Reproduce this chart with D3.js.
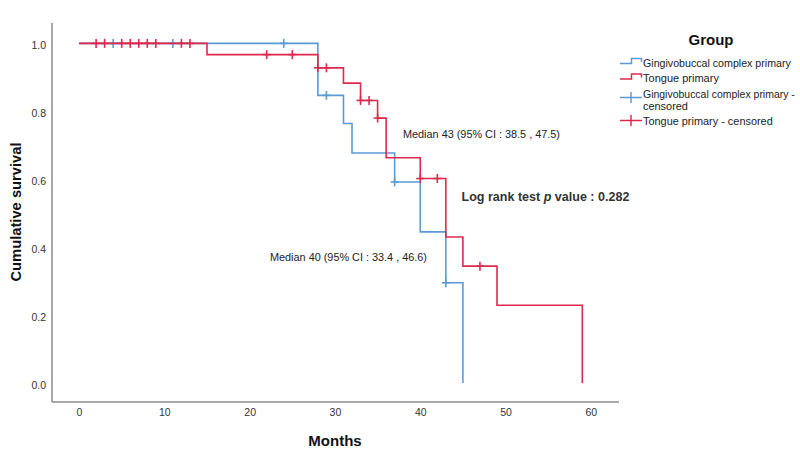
<!DOCTYPE html>
<html>
<head>
<meta charset="utf-8">
<script src="https://cdn.jsdelivr.net/npm/d3@7"></script>
<style>
  html, body { margin: 0; padding: 0; background: #fff; }
  svg { display: block; }
  text { font-family: "Liberation Sans Narrow", "Arial Narrow", "Liberation Sans", Arial, sans-serif; }
</style>
</head>
<body>
<svg id="chart" width="800" height="456"></svg>
<script>
// ---- data ----
const groups = ["Gingivobuccal complex primary", "Tongue primary"];
const blueTimes = [0, 28, 31, 32, 37, 40, 43, 45];
const blueSurv  = [1, 0.847, 0.764, 0.677, 0.592, 0.445, 0.295, 0];
const blueCensor = [4, 11, 24, 29, 37, 43];
const redTimes = [0, 15, 28, 31, 33, 35, 36, 40, 43, 45, 49, 59];
const redSurv  = [1, 0.967, 0.928, 0.883, 0.832, 0.780, 0.663, 0.602, 0.430, 0.344, 0.229, 0];
const redCensor = [2, 3, 5, 6, 7, 8, 9, 12, 13, 22, 25, 28, 29, 33, 34, 35, 40, 42, 47];
const xTicks = [0, 10, 20, 30, 40, 50, 60];
const yTicks = [0, 0.2, 0.4, 0.6, 0.8, 1.0];
const legendLabels = ["Gingivobuccal complex primary", "Tongue primary",
  "Gingivobuccal complex primary - censored", "Tongue primary - censored"];
const annotations = {
  median43: "Median 43 (95% CI : 38.5 , 47.5)",
  median40: "Median 40 (95% CI : 33.4 , 46.6)"
};

const BLUE = "#5b9bd5";
const RED = "#e0284f";

const svg = d3.select("#chart");

const x = d3.scaleLinear().domain([-3.17, 63.3]).range([52, 619]);
const y = d3.scaleLinear().domain([-0.056, 1.06]).range([402, 23]);

// axes
const axisColor = "#8c8c8c";
svg.append("line").attr("x1", x.range()[0]).attr("x2", x.range()[1])
  .attr("y1", y.range()[0]).attr("y2", y.range()[0])
  .attr("stroke", axisColor).attr("stroke-width", 1.5);
svg.append("line").attr("x1", x.range()[0]).attr("x2", x.range()[0])
  .attr("y1", y.range()[0]).attr("y2", y.range()[1])
  .attr("stroke", axisColor).attr("stroke-width", 1.5);

const xAxis = d3.axisBottom(x).tickValues(xTicks).tickSize(0).tickPadding(0);
const gx = svg.append("g").attr("transform", `translate(0,${y.range()[0]})`).call(xAxis);
gx.select(".domain").remove();
gx.selectAll("text").attr("y", 14).attr("dy", 0)
  .attr("font-size", 10.5).attr("fill", "#333")
  .style("font-family", "'Liberation Sans Narrow','Arial Narrow','Liberation Sans',Arial,sans-serif");

const yAxis = d3.axisLeft(y).tickValues(yTicks).tickFormat(d3.format(".1f")).tickSize(0).tickPadding(0);
const gy = svg.append("g").attr("transform", `translate(46,0)`).call(yAxis);
gy.select(".domain").remove();
gy.selectAll("text").attr("x", 0).attr("dy", "0.48em")
  .attr("font-size", 10.5).attr("fill", "#333")
  .style("font-family", "'Liberation Sans Narrow','Arial Narrow','Liberation Sans',Arial,sans-serif");

// curves
const line = d3.line().curve(d3.curveStepAfter).x(d => x(d[0])).y(d => y(d[1]));
function survAt(times, surv, t) {
  let s = surv[0];
  for (let i = 0; i < times.length; i++) if (times[i] <= t) s = surv[i];
  return s;
}
function drawGroup(times, surv, censor, color) {
  const pts = times.map((t, i) => [t, surv[i]]);
  svg.append("path").attr("d", line(pts)).attr("fill", "none")
    .attr("stroke", color).attr("stroke-width", 1.6);
  const g = svg.append("g");
  censor.forEach(t => {
    const cx = x(t), cy = y(survAt(times, surv, t));
    g.append("line").attr("x1", cx).attr("x2", cx).attr("y1", cy - 4.5).attr("y2", cy + 4.5)
      .attr("stroke", color).attr("stroke-width", 1.6);
    g.append("line").attr("x1", cx - 4).attr("x2", cx + 4).attr("y1", cy).attr("y2", cy)
      .attr("stroke", color).attr("stroke-width", 1.6);
  });
}
drawGroup(blueTimes, blueSurv, blueCensor, BLUE);
drawGroup(redTimes, redSurv, redCensor, RED);

// fit helper: shrink font size so the natural width equals target
function fitWidth(sel, target, base) {
  sel.attr("font-size", base);
  const w = sel.node().getComputedTextLength();
  if (w > 0) sel.attr("font-size", base * target / w);
}

// annotations
fitWidth(svg.append("text").attr("x", 403).attr("y", 137.5).attr("fill", "#222")
  .text(annotations.median43), 157, 12.5);
fitWidth(svg.append("text").attr("x", 270).attr("y", 260.5).attr("fill", "#222")
  .text(annotations.median40), 157, 12.5);
const lr = svg.append("text").attr("x", 461.5).attr("y", 201)
  .attr("font-weight", "bold").attr("fill", "#333")
  .style("font-family", "'Liberation Sans',Arial,sans-serif");
lr.append("tspan").text("Log rank test ");
lr.append("tspan").attr("font-style", "italic").text("p");
lr.append("tspan").text(" value : 0.282");
fitWidth(lr, 168, 13);

// axis titles
svg.append("text").attr("x", 335).attr("y", 446).attr("text-anchor", "middle")
  .attr("font-size", 15).attr("font-weight", "bold").attr("fill", "#111")
  .style("font-family", "'Liberation Sans',Arial,sans-serif").text("Months");
svg.append("text").attr("transform", "translate(21,212) rotate(-90)").attr("text-anchor", "middle")
  .attr("font-size", 15).attr("font-weight", "bold").attr("fill", "#111")
  .attr("textLength", 139).attr("lengthAdjust", "spacingAndGlyphs")
  .style("font-family", "'Liberation Sans',Arial,sans-serif").text("Cumulative survival");

// legend
svg.append("text").attr("x", 711).attr("y", 44.5).attr("text-anchor", "middle")
  .attr("font-size", 15).attr("font-weight", "bold").attr("fill", "#111")
  .style("font-family", "'Liberation Sans',Arial,sans-serif").text("Group");

const lg = svg.append("g");
function stepIcon(yc, color) {
  const p = d3.path();
  p.moveTo(620, yc + 2.5); p.lineTo(631.5, yc + 2.5); p.lineTo(631.5, yc - 2.5);
  p.lineTo(641.5, yc - 2.5); p.lineTo(641.5, yc + 1);
  lg.append("path").attr("d", p.toString()).attr("fill", "none").attr("stroke", color).attr("stroke-width", 1.5);
}
function crossIcon(yc, color) {
  lg.append("line").attr("x1", 620).attr("x2", 642).attr("y1", yc).attr("y2", yc)
    .attr("stroke", color).attr("stroke-width", 1.5);
  lg.append("line").attr("x1", 631).attr("x2", 631).attr("y1", yc - 5.5).attr("y2", yc + 5.5)
    .attr("stroke", color).attr("stroke-width", 1.5);
}
function legText(yb, str, w) {
  const t = lg.append("text").attr("x", 643).attr("y", yb).attr("fill", "#222").text(str);
  fitWidth(t, w, 12);
}
stepIcon(61, BLUE);
legText(66.5, legendLabels[0], 148);
stepIcon(76.5, RED);
legText(82, legendLabels[1], 76);
crossIcon(97.5, BLUE);
legText(97.5, "Gingivobuccal complex primary -", 152);
legText(110, "censored", 45);
crossIcon(120.5, RED);
legText(125, legendLabels[3], 130);
</script>
</body>
</html>
